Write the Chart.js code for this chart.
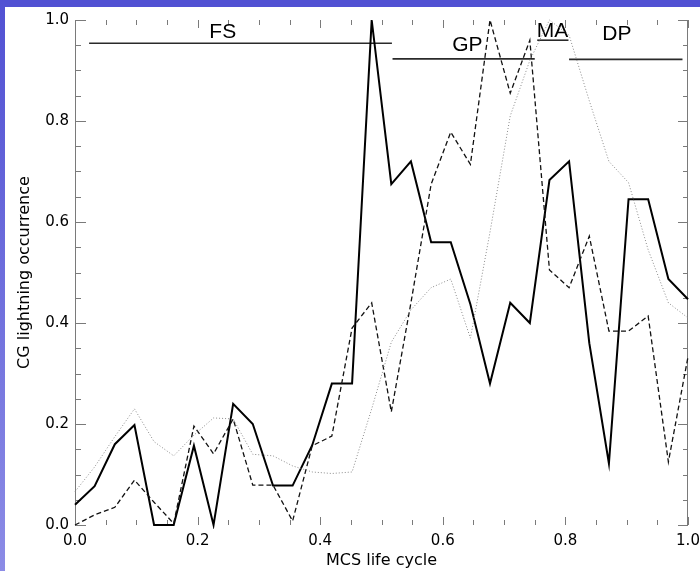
<!DOCTYPE html>
<html>
<head>
<meta charset="utf-8">
<script src="https://cdn.jsdelivr.net/npm/chart.js@4.4.0/dist/chart.umd.min.js"></script>
<style>
  html, body { margin: 0; padding: 0; background: #fff; }
  #wrap { position: relative; width: 700px; height: 571px; overflow: hidden; background: #fff; }
  #cgChart { position: absolute; left: 0; top: 0; }
  #topBand { position: absolute; left: 0; top: 0; width: 700px; height: 7px; background: #5151d3; }
  #leftBand { position: absolute; left: 0; top: 0; width: 5px; height: 571px; background: linear-gradient(#5151d3, #8c8ce6); }
</style>
</head>
<body>
<div id="wrap">
  <canvas id="cgChart" width="700" height="571"></canvas>
  <div id="topBand"></div>
  <div id="leftBand"></div>
</div>
<script>
// MCS life cycle (fraction of lifetime)
const lifeCycle = [0.000, 0.032, 0.065, 0.097, 0.129, 0.161, 0.194, 0.226,
  0.258, 0.290, 0.323, 0.355, 0.387, 0.419, 0.452, 0.484,
  0.516, 0.548, 0.581, 0.613, 0.645, 0.677, 0.710, 0.742,
  0.774, 0.806, 0.839, 0.871, 0.903, 0.935, 0.968, 1.000];

// normalized CG lightning occurrence, one array per curve
const solidCurve = [0.04, 0.077, 0.16, 0.198, 0.0, 0.0, 0.157, 0.0,
  0.24, 0.20, 0.078, 0.078, 0.158, 0.28, 0.28, 1.0,
  0.675, 0.72, 0.56, 0.56, 0.437, 0.28, 0.44, 0.40,
  0.683, 0.72, 0.36, 0.122, 0.645, 0.645, 0.487, 0.447];

const dashedCurve = [0.0, 0.02, 0.035, 0.089, 0.045, 0.003, 0.196, 0.141,
  0.21, 0.079, 0.079, 0.008, 0.157, 0.176, 0.39, 0.44,
  0.224, 0.44, 0.675, 0.778, 0.714, 1.0, 0.855, 0.96,
  0.505, 0.47, 0.572, 0.384, 0.384, 0.414, 0.125, 0.333];

const dottedCurve = [0.066, 0.115, 0.175, 0.23, 0.165, 0.137, 0.178, 0.212,
  0.21, 0.14, 0.137, 0.117, 0.105, 0.102, 0.105, 0.23,
  0.362, 0.426, 0.47, 0.487, 0.37, 0.58, 0.81, 0.92,
  1.0, 0.97, 0.84, 0.72, 0.678, 0.545, 0.44, 0.41];

// life cycle stages: label, start, end, bar level
const stageNames = ['FS', 'GP', 'MA', 'DP'];
const stageStart = [0.023, 0.518, 0.754, 0.806];
const stageEnd = [0.517, 0.750, 0.805, 0.991];
const stageLevel = [0.954, 0.923, 0.960, 0.922];
const stageLabelX = [0.241, 0.640, 0.779, 0.884];
const stageLabelY = [0.975, 0.950, 0.977, 0.972];

const xTicks = [0.0, 0.2, 0.4, 0.6, 0.8, 1.0];
const yTicks = [0.0, 0.2, 0.4, 0.6, 0.8, 1.0];

function toPoints(values) {
  return values.map((v, i) => ({ x: lifeCycle[i], y: v }));
}

// IDL-style box: inward major/minor ticks, side axis lines, stage bars
const idlFrame = {
  id: 'idlFrame',
  beforeDatasetsDraw(chart) {
    const { ctx, chartArea: a, scales: { x, y } } = chart;
    ctx.save();
    ctx.strokeStyle = '#7a7a7a';
    ctx.lineWidth = 1;
    ctx.beginPath();
    ctx.moveTo(Math.round(a.left) + 0.5, a.top);
    ctx.lineTo(Math.round(a.left) + 0.5, a.bottom);
    ctx.moveTo(Math.round(a.right) - 0.5, a.top);
    ctx.lineTo(Math.round(a.right) - 0.5, a.bottom);
    for (let i = 0; i <= 20; i++) {
      const v = i * 0.05;
      const major = i % 4 === 0;
      const px = Math.round(x.getPixelForValue(v)) + 0.5;
      const py = Math.round(y.getPixelForValue(v)) + 0.5;
      const hl = major ? 8 : 5;
      ctx.moveTo(px, a.bottom); ctx.lineTo(px, a.bottom - hl);
      ctx.moveTo(px, a.top); ctx.lineTo(px, a.top + hl);
      ctx.moveTo(a.left, py); ctx.lineTo(a.left + (major ? 11 : 6), py);
      ctx.moveTo(a.right, py); ctx.lineTo(a.right - (major ? 10 : 5), py);
    }
    ctx.stroke();

    ctx.strokeStyle = '#2a2a2a';
    ctx.lineWidth = 1.6;
    ctx.fillStyle = '#000';
    ctx.font = '21px "Liberation Sans", Arial, sans-serif';
    ctx.textAlign = 'center';
    ctx.textBaseline = 'middle';
    stageNames.forEach((name, i) => {
      const yy = y.getPixelForValue(stageLevel[i]);
      ctx.beginPath();
      ctx.moveTo(x.getPixelForValue(stageStart[i]), yy);
      ctx.lineTo(x.getPixelForValue(stageEnd[i]), yy);
      ctx.stroke();
      ctx.fillText(name, x.getPixelForValue(stageLabelX[i]), y.getPixelForValue(stageLabelY[i]));
    });
    ctx.restore();
  }
};

const tickFont = { family: '"DejaVu Sans", sans-serif', size: 15 };
const titleFont = { family: '"DejaVu Sans", sans-serif', size: 16 };

const ctx = document.getElementById('cgChart').getContext('2d');
const cgChart = new Chart(ctx, {
  type: 'line',
  data: {
    datasets: [
      {
        label: 'dotted',
        data: toPoints(dottedCurve),
        borderColor: '#8a8a8a',
        borderWidth: 1,
        borderDash: [1, 2],
        pointRadius: 0,
        tension: 0,
        clip: 4
      },
      {
        label: 'dashed',
        data: toPoints(dashedCurve),
        borderColor: '#111',
        borderWidth: 1.3,
        borderDash: [5, 3],
        pointRadius: 0,
        tension: 0,
        clip: 4
      },
      {
        label: 'solid',
        data: toPoints(solidCurve),
        borderColor: '#000',
        borderWidth: 2,
        pointRadius: 0,
        tension: 0,
        clip: 4
      }
    ]
  },
  options: {
    responsive: false,
    animation: false,
    layout: { padding: { top: 20, right: 12, left: 0, bottom: 0 } },
    plugins: {
      legend: { display: false },
      tooltip: { enabled: false }
    },
    scales: {
      x: {
        type: 'linear',
        min: 0,
        max: 1,
        afterFit: (s) => { s.height = 46; s.paddingLeft = 0; s.paddingRight = 0; },
        afterBuildTicks: (s) => { s.ticks = xTicks.map(v => ({ value: v })); },
        grid: { display: false, drawTicks: false },
        border: { display: false },
        ticks: {
          color: '#000',
          font: tickFont,
          padding: 7,
          maxRotation: 0,
          autoSkip: false,
          callback: (v) => Number(v).toFixed(1)
        },
        title: {
          display: true,
          text: 'MCS life cycle',
          color: '#000',
          font: titleFont,
          padding: { top: 0, bottom: 1 }
        }
      },
      y: {
        min: 0,
        max: 1,
        afterFit: (s) => { s.width = 75; s.paddingTop = 0; s.paddingBottom = 0; },
        afterBuildTicks: (s) => { s.ticks = yTicks.map(v => ({ value: v })); },
        grid: { display: false, drawTicks: false },
        border: { display: false },
        ticks: {
          color: '#000',
          font: tickFont,
          padding: 6,
          callback: (v) => Number(v).toFixed(1)
        },
        title: {
          display: true,
          text: 'CG lightning occurrence',
          color: '#000',
          font: titleFont,
          padding: { top: 15, bottom: 0 }
        }
      }
    }
  },
  plugins: [idlFrame]
});
</script>
</body>
</html>
